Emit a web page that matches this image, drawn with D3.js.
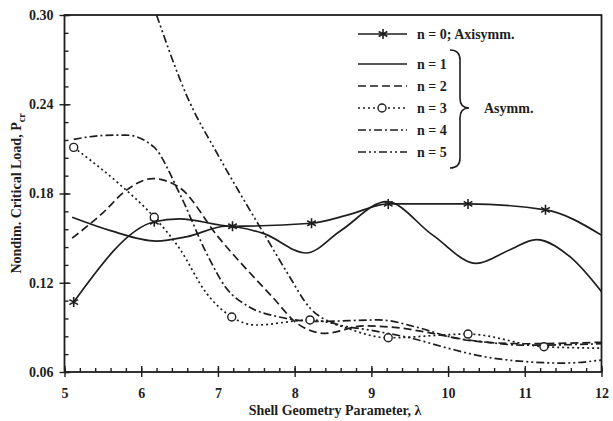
<!DOCTYPE html>
<html>
<head>
<meta charset="utf-8">
<script src="https://cdn.jsdelivr.net/npm/d3@7"></script>
<style>
  body { margin: 0; background: #fff; }
  text { font-family: "Liberation Serif", "Times New Roman", serif; font-weight: bold; fill: #1e1e1e; }
</style>
</head>
<body>
<svg id="chart" width="613" height="421"></svg>
<script>
// axis ticks
const xTicks = [5, 6, 7, 8, 9, 10, 11, 12];
const yTicks = [0.06, 0.12, 0.18, 0.24, 0.30];

// n = 0 (axisymmetric), stars on the marked points
const n0Lambda = [5.12, 6.17, 6.5, 7.19, 8.22, 8.72, 9.22, 10.26, 11.27, 12];
const n0Load = [0.107, 0.161, 0.163, 0.158, 0.160, 0.166, 0.173, 0.173, 0.169, 0.152];
const n0Marked = [true, true, false, true, true, false, true, true, true, false];

// n = 1
const n1Lambda = [5.1, 5.6, 6.2, 6.6, 7.1, 7.6, 8.15, 8.6, 9.2, 9.8, 10.37, 10.8, 11.15, 11.6, 12];
const n1Load = [0.164, 0.155, 0.148, 0.151, 0.158, 0.153, 0.140, 0.155, 0.1745, 0.152, 0.133, 0.142, 0.149, 0.137, 0.114];

// n = 2
const n2Lambda = [5.1, 5.5, 5.8, 6.15, 6.5, 7.0, 7.7, 8.05, 8.4, 8.9, 9.3, 9.8, 10.3, 11, 12];
const n2Load = [0.150, 0.167, 0.182, 0.190, 0.184, 0.151, 0.111, 0.092, 0.086, 0.091, 0.090, 0.086, 0.081, 0.079, 0.080];

// n = 3, circles on the marked points
const n3Lambda = [5.12, 5.7, 6.17, 6.5, 6.85, 7.18, 7.5, 8.2, 9.22, 10.26, 11.25, 12];
const n3Load = [0.211, 0.187, 0.164, 0.143, 0.113, 0.097, 0.0916, 0.095, 0.083, 0.0855, 0.077, 0.076];
const n3Marked = [true, false, true, false, false, true, false, true, true, true, true, false];

// n = 4
const n4Lambda = [5.12, 5.5, 5.8, 6.16, 6.5, 6.85, 7.1, 7.4, 7.8, 8.3, 9.1, 9.6, 10.0, 10.5, 11, 12];
const n4Load = [0.2164, 0.219, 0.2193, 0.2115, 0.180, 0.140, 0.117, 0.104, 0.097, 0.094, 0.095, 0.090, 0.084, 0.080, 0.078, 0.079];

// n = 5
const n5Lambda = [6.2, 6.6, 7.0, 7.3, 7.6, 7.9, 8.2, 8.5, 9.0, 9.5, 10.0, 10.4, 11.0, 11.5, 12];
const n5Load = [0.30, 0.245, 0.206, 0.179, 0.153, 0.127, 0.103, 0.093, 0.088, 0.083, 0.076, 0.071, 0.067, 0.066, 0.068];

const svg = d3.select("#chart");
const ink = "#1e1e1e";

const x = d3.scaleLinear().domain([5, 12]).range([64.5, 601.5]);
const y = d3.scaleLinear().domain([0.06, 0.30]).range([372, 15]);

// frame
svg.append("rect")
  .attr("x", x(5)).attr("y", y(0.30))
  .attr("width", x(12) - x(5)).attr("height", y(0.06) - y(0.30))
  .attr("fill", "none").attr("stroke", ink).attr("stroke-width", 1.8);

// minor ticks (inward)
const xMinor = d3.range(5, 12.001, 0.2);
const yMinor = d3.range(0.06, 0.3001, 0.012);
svg.append("g")
  .attr("transform", `translate(0,${y(0.06)})`)
  .call(d3.axisBottom(x).tickValues(xMinor).tickSize(-4).tickFormat(""))
  .call(g => g.select(".domain").remove());
svg.append("g")
  .attr("transform", `translate(${x(5)},0)`)
  .call(d3.axisLeft(y).tickValues(yMinor).tickSize(-4).tickFormat(""))
  .call(g => g.select(".domain").remove());

// major ticks, crossing the axis
svg.append("g")
  .attr("transform", `translate(0,${y(0.06)})`)
  .call(d3.axisBottom(x).tickValues(xTicks).tickSize(-6).tickFormat(""))
  .call(g => g.select(".domain").remove());
svg.append("g")
  .attr("transform", `translate(0,${y(0.06)})`)
  .call(d3.axisBottom(x).tickValues(xTicks).tickSize(5).tickPadding(11).tickFormat(d3.format("d")))
  .call(g => g.select(".domain").remove());
svg.append("g")
  .attr("transform", `translate(${x(5)},0)`)
  .call(d3.axisLeft(y).tickValues(yTicks).tickSize(-6).tickFormat(""))
  .call(g => g.select(".domain").remove());
svg.append("g")
  .attr("transform", `translate(${x(5)},0)`)
  .call(d3.axisLeft(y).tickValues(yTicks).tickSize(5).tickPadding(6).tickFormat(d3.format(".2f")))
  .call(g => g.select(".domain").remove());

svg.selectAll(".tick line").attr("stroke", ink).attr("stroke-width", 1.4);
svg.selectAll(".tick text")
  .style("font-family", '"Liberation Serif", serif')
  .style("font-weight", "bold")
  .style("font-size", "14px")
  .attr("fill", ink);

// axis titles
svg.append("text")
  .attr("x", (x(5) + x(12)) / 2 + 2).attr("y", 415)
  .attr("text-anchor", "middle")
  .style("font-size", "14px")
  .text("Shell Geometry Parameter, λ");

const yTitle = svg.append("text")
  .attr("transform", `translate(21,${(y(0.06) + y(0.30)) / 2}) rotate(-90)`)
  .attr("text-anchor", "middle")
  .style("font-size", "14px");
yTitle.append("tspan").text("Nondim. Critical Load, P");
yTitle.append("tspan").attr("dy", 4).style("font-size", "10px").text("cr");

// curves
const series = [
  { lam: n0Lambda, load: n0Load, dash: null },
  { lam: n1Lambda, load: n1Load, dash: null },
  { lam: n2Lambda, load: n2Load, dash: "8,4" },
  { lam: n3Lambda, load: n3Load, dash: "2,3" },
  { lam: n4Lambda, load: n4Load, dash: "8,3,2,3" },
  { lam: n5Lambda, load: n5Load, dash: "8,3,2,3,2,3" }
];

svg.append("clipPath").attr("id", "plot-clip")
  .append("rect")
  .attr("x", x(5)).attr("y", y(0.30))
  .attr("width", x(12) - x(5)).attr("height", y(0.06) - y(0.30));

const line = d3.line()
  .x(d => x(d[0]))
  .y(d => y(d[1]))
  .curve(d3.curveMonotoneX);

svg.append("g")
  .attr("clip-path", "url(#plot-clip)")
  .selectAll("path")
  .data(series)
  .join("path")
  .attr("d", s => line(s.lam.map((v, i) => [v, s.load[i]])))
  .attr("fill", "none")
  .attr("stroke", ink)
  .attr("stroke-width", 1.7)
  .attr("stroke-dasharray", s => s.dash);

// markers
const star = d3.symbol().type(d3.symbolAsterisk).size(70);
svg.append("g")
  .selectAll("path")
  .data(n0Lambda.map((v, i) => [v, n0Load[i]]).filter((d, i) => n0Marked[i]))
  .join("path")
  .attr("transform", d => `translate(${x(d[0])},${y(d[1])})`)
  .attr("d", star)
  .attr("fill", "none")
  .attr("stroke", ink)
  .attr("stroke-width", 1.6);

svg.append("g")
  .selectAll("circle")
  .data(n3Lambda.map((v, i) => [v, n3Load[i]]).filter((d, i) => n3Marked[i]))
  .join("circle")
  .attr("cx", d => x(d[0]))
  .attr("cy", d => y(d[1]))
  .attr("r", 4)
  .attr("fill", "#fff")
  .attr("stroke", ink)
  .attr("stroke-width", 1.4);

// legend
const legendLabels = ["n = 0; Axisymm.", "n = 1", "n = 2", "n = 3", "n = 4", "n = 5"];
const legendRows = [34, 64, 86, 108, 130, 152];
const legend = svg.append("g");
legendLabels.forEach((label, i) => {
  const ly = legendRows[i];
  legend.append("line")
    .attr("x1", 358).attr("x2", 407)
    .attr("y1", ly).attr("y2", ly)
    .attr("stroke", ink).attr("stroke-width", 1.6)
    .attr("stroke-dasharray", series[i].dash);
  if (i === 0) {
    legend.append("path")
      .attr("transform", `translate(383,${ly})`)
      .attr("d", star)
      .attr("fill", "none").attr("stroke", ink).attr("stroke-width", 1.6);
  }
  if (i === 3) {
    legend.append("circle")
      .attr("cx", 382).attr("cy", ly).attr("r", 4)
      .attr("fill", "#fff").attr("stroke", ink).attr("stroke-width", 1.4);
  }
  legend.append("text")
    .attr("x", 417).attr("y", ly)
    .attr("dy", "0.35em")
    .style("font-size", "14px")
    .text(label);
});

// brace grouping the asymmetric modes
legend.append("path")
  .attr("d", "M450,50 Q460,50 460,60 L460,98 Q460,108 469,108 Q460,108 460,118 L460,158 Q460,168 450,168")
  .attr("fill", "none").attr("stroke", ink).attr("stroke-width", 1.6);
legend.append("text")
  .attr("x", 484).attr("y", 108).attr("dy", "0.35em")
  .style("font-size", "14px")
  .text("Asymm.");
</script>
</body>
</html>
